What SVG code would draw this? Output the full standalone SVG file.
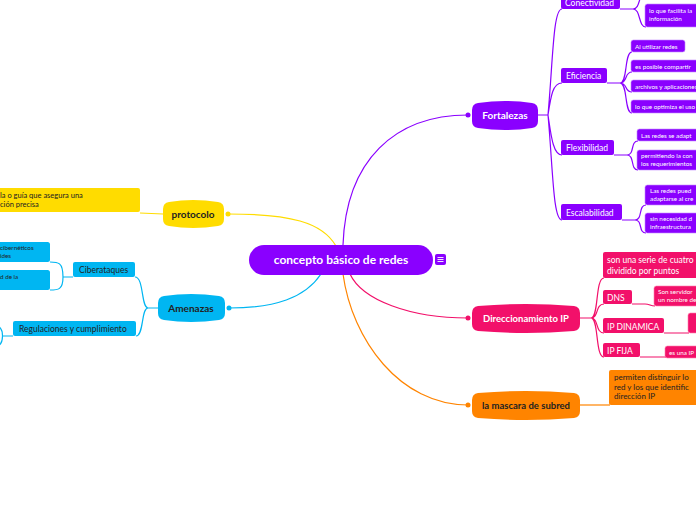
<svg xmlns="http://www.w3.org/2000/svg" width="696" height="520" viewBox="0 0 696 520">
<style>
text{font-family:Lato,"Noto Sans","Liberation Sans",sans-serif}
.c{fill:none;stroke-width:1.2}
.p{stroke:#8a00ff}.pk{stroke:#f2106a}.o{stroke:#ff8400}.y{stroke:#ffdc00}.b{stroke:#00b6f2}
.pf{fill:#8a00ff}.pkf{fill:#f2106a}.of{fill:#ff8400}.yf{fill:#ffdc00}.bf{fill:#00b6f2}
.main{font-size:10px;font-weight:bold;text-anchor:middle}
.sub{font-size:8.5px}
.leaf{font-size:6.3px}
.w{fill:#fff}.d{fill:#222}
.lb{stroke:#c58cff;stroke-width:0.6}
.lpk{stroke:#ff7fae;stroke-width:0.6}
</style>
<rect width="696" height="520" fill="#fff"/>
<g id="connectors">
<path class="c p" d="M343 245 C346 160,395 115,468 115"/>
<path class="c y" d="M336 246 C322 222,290 214,228 214"/>
<path class="c b" d="M321 274 C305 298,275 308,229 308"/>
<path class="c pk" d="M350 274 C362 300,410 318,468 318"/>
<path class="c o" d="M343 274 C352 340,400 405,468 405"/>
<circle cx="468" cy="115" r="2.5" fill="#8a00ff"/>
<circle cx="228" cy="214" r="2.5" fill="#ffdc00"/>
<circle cx="229" cy="308" r="2.5" fill="#00b6f2"/>
<circle cx="468" cy="318" r="2.5" fill="#f2106a"/>
<circle cx="468" cy="405" r="2.5" fill="#ff8400"/>
<path class="c p" d="M538 115 L548 115 M548 115 C553 60,553 9,562 9 M548 115 C551 95,553 83,562 83 M548 115 C551 135,553 155,562 155 M548 115 C553 170,553 220,562 220"/>
<path class="c p" d="M620 9 L633 9 M633 9 C641 9,638 27,646 27 M633 9 C641 9,638 -8,646 -8"/>
<path class="c p" d="M607 83 L620 83 M620 83 C628 83,624 52,632 52 M620 83 C628 83,624 72,632 72 M620 83 C628 83,624 92,632 92 M620 83 C628 83,624 113,632 113"/>
<path class="c p" d="M614 155 L627 155 M627 155 C635 155,630 141,638 141 M627 155 C635 155,630 170,638 170"/>
<path class="c p" d="M622 220 L635 220 M635 220 C643 220,638 205,646 205 M635 220 C643 220,638 233,646 233"/>
<path class="c pk" d="M580 318 L591 318 M591 318 C599 318,595 278,604 278 M591 318 C599 318,595 304,604 304 M591 318 C599 318,595 333,604 333 M591 318 C599 318,595 357,604 357"/>
<path class="c pk" d="M632 304 L645 304 C650 304,650 306,655 306 M664 333 L689 333 M640 357 L666 357"/>
<path class="c o" d="M580 405 L610 405"/>
<path class="c y" d="M163 214 L140 213"/>
<path class="c b" d="M158 308 L148 308 M148 308 C141 308,144 277,135 277 M148 308 C141 308,144 336,136 336"/>
<path class="c b" d="M73 277 L63 277 M63 277 C63 262,58 262,50 262 M63 277 C63 290,58 290,50 290"/>
<path class="c b" d="M13 336 L3 336 M-2 326 C4 329,4 343,-2 346"/>
</g>
<g id="center">
<rect x="249" y="245" width="184" height="30" rx="15" fill="#8a00ff"/>
<text x="341" y="263.5" class="w" style="font-size:12px;font-weight:bold;text-anchor:middle">concepto básico de redes</text>
<rect x="435" y="254" width="11" height="11" rx="2" fill="#8a00ff"/>
<path d="M437.5 257.5h6M437.5 259.5h6M437.5 261.5h6" stroke="#fff" stroke-width="0.9"/>
</g>
<g id="fortalezas">
<path class="pf" d="M478 103 Q505 99 532 103 Q538 104 538 110 L538 121 Q538 127 532 128 Q505 132 478 128 Q472 127 472 121 L472 110 Q472 104 478 103 Z"/>
<text x="505" y="119" class="main w">Fortalezas</text>
</g>
<g id="conectividad">
<rect x="561" y="-6" width="59" height="15" rx="2" class="pf"/>
<text x="565" y="6" class="sub w">Conectividad</text>
<rect x="645" y="4" width="60" height="23" rx="2.5" class="pf lb"/>
<text x="649" y="13" class="leaf w">lo que facilita la</text>
<text x="649" y="21" class="leaf w">información</text>
</g>
<g id="eficiencia">
<rect x="561" y="68" width="46" height="15" rx="2" class="pf"/>
<text x="566" y="79" class="sub w">Eficiencia</text>
<rect x="631" y="40" width="54" height="12" rx="2.5" class="pf lb"/>
<text x="635" y="48.5" class="leaf w">Al utilizar redes</text>
<rect x="631" y="60" width="75" height="12" rx="2.5" class="pf lb"/>
<text x="635" y="68.5" class="leaf w">es posible compartir</text>
<rect x="631" y="80" width="75" height="12" rx="2.5" class="pf lb"/>
<text x="635" y="88.5" class="leaf w">archivos y aplicaciones</text>
<rect x="631" y="100" width="75" height="13" rx="2.5" class="pf lb"/>
<text x="635" y="109" class="leaf w">lo que optimiza el uso d</text>
</g>
<g id="flexibilidad">
<rect x="561" y="140" width="53" height="15" rx="2" class="pf"/>
<text x="566" y="151" class="sub w">Flexibilidad</text>
<rect x="637" y="129" width="70" height="12" rx="2.5" class="pf lb"/>
<text x="641" y="137.5" class="leaf w">Las redes se adapt</text>
<rect x="637" y="150" width="70" height="20" rx="2.5" class="pf lb"/>
<text x="641" y="158" class="leaf w">permitiendo la con</text>
<text x="641" y="166" class="leaf w">los requerimientos</text>
</g>
<g id="escalabilidad">
<rect x="561" y="204" width="61" height="16" rx="2" class="pf"/>
<text x="566" y="215.5" class="sub w">Escalabilidad</text>
<rect x="645" y="185" width="62" height="20" rx="2.5" class="pf lb"/>
<text x="650" y="193" class="leaf w">Las redes pued</text>
<text x="650" y="201" class="leaf w">adaptarse al cre</text>
<rect x="645" y="213" width="62" height="20" rx="2.5" class="pf lb"/>
<text x="650" y="221" class="leaf w">sin necesidad d</text>
<text x="650" y="229" class="leaf w">infraestructura</text>
</g>
<g id="direccionamiento">
<path class="pkf" d="M478 306 Q526 302 574 306 Q580 307 580 313 L580 324 Q580 330 574 331 Q526 335 478 331 Q472 330 472 324 L472 313 Q472 307 478 306 Z"/>
<text x="526" y="322" class="main w" style="font-size:9.5px">Direccionamiento IP</text>
</g>
<g id="serie">
<rect x="603" y="252" width="100" height="26" rx="2" class="pkf"/>
<text x="607" y="263" class="w" style="font-size:8.5px">son una serie de cuatro</text>
<text x="607" y="274" class="w" style="font-size:8.5px">dividido por puntos</text>
</g>
<g id="dns">
<rect x="603" y="290" width="29" height="14" rx="2" class="pkf"/>
<text x="607" y="301" class="w" style="font-size:8.5px">DNS</text>
<rect x="654" y="286" width="52" height="20" rx="2.5" class="pkf lpk"/>
<text x="658" y="294" class="leaf w">Son servidor</text>
<text x="658" y="302" class="leaf w">un nombre de</text>
</g>
<g id="ipdinamica">
<rect x="603" y="318" width="61" height="15" rx="2" class="pkf"/>
<text x="607" y="329.5" class="w" style="font-size:8.5px">IP DINAMICA</text>
<rect x="688" y="313" width="20" height="20" rx="2.5" class="pkf lpk"/>
</g>
<g id="ipfija">
<rect x="603" y="343" width="37" height="14" rx="2" class="pkf"/>
<text x="607" y="354" class="w" style="font-size:8.5px">IP FIJA</text>
<rect x="665" y="346" width="42" height="12" rx="2.5" class="pkf lpk"/>
<text x="669" y="354.5" class="leaf w">es una IP</text>
</g>
<g id="mascara">
<path class="of" d="M478 393 Q526 389 574 393 Q580 394 580 400 L580 411 Q580 417 574 418 Q526 422 478 418 Q472 417 472 411 L472 400 Q472 394 478 393 Z"/>
<text x="526" y="409" class="main d" style="font-size:9.5px">la mascara de subred</text>
<rect x="609" y="370" width="100" height="35" rx="2" class="of"/>
<text x="614" y="380" class="d" style="font-size:8px">permiten distinguir lo</text>
<text x="614" y="389.5" class="d" style="font-size:8px">red y los que identific</text>
<text x="614" y="399" class="d" style="font-size:8px">dirección IP</text>
</g>
<g id="protocolo">
<path class="yf" d="M169 202 Q193 198 218 202 Q224 203 224 209 L224 219 Q224 225 218 226 Q193 230 169 226 Q163 225 163 219 L163 209 Q163 203 169 202 Z"/>
<text x="193" y="218" class="main d">protocolo</text>
<rect x="-20" y="188" width="160" height="24" rx="2" class="yf"/>
<text x="0" y="198" class="d" style="font-size:7.5px">la o guía que asegura una</text>
<text x="0" y="207" class="d" style="font-size:7.5px">ción precisa</text>
</g>
<g id="amenazas">
<path class="bf" d="M164 296 Q191 292 219 296 Q225 297 225 303 L225 313 Q225 319 219 320 Q191 324 164 320 Q158 319 158 313 L158 303 Q158 297 164 296 Z"/>
<text x="191" y="312" class="main d">Amenazas</text>
</g>
<g id="ciberataques">
<rect x="73" y="262" width="62" height="15" rx="2" class="bf"/>
<text x="79" y="273" class="sub d">Ciberataques</text>
<rect x="-20" y="242" width="70" height="20" rx="2.5" class="bf"/>
<text x="0" y="250" class="leaf d">cibernéticos</text>
<text x="0" y="258" class="leaf d">ides</text>
<rect x="-20" y="270" width="70" height="20" rx="2.5" class="bf"/>
<text x="0" y="279" class="leaf d">d de la</text>
</g>
<g id="regulaciones">
<rect x="13" y="321" width="123" height="15" rx="2" class="bf"/>
<text x="19" y="332" class="sub d">Regulaciones y cumplimiento</text>
</g>
</svg>
